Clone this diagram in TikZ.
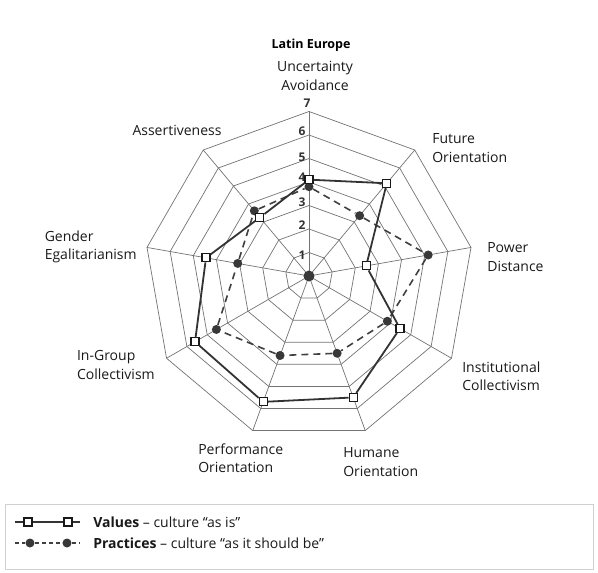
\documentclass[tikz,border=0pt]{standalone}
\usepackage{fontspec}
\setmainfont{Open Sans}
\usepackage{tikz}
\usetikzlibrary{arrows,positioning}

\begin{document}
\begin{tikzpicture}[x=1pt,y=1pt,semithick,
                    font=\fontsize{14}{18.5}\selectfont]

  \tikzstyle{grid line}=[draw=black!55,line width=0.7pt]
  \tikzstyle{axis label}=[align=left,inner sep=0pt,text=black!90]
  \tikzstyle{value mark}=[rectangle,draw=black!90,fill=white,line width=1.1pt,
                          minimum size=8pt,inner sep=0pt]
  \tikzstyle{practice mark}=[circle,fill=black!78,minimum size=9pt,inner sep=0pt]
  \tikzstyle{value line}=[draw=black!80,line width=1.8pt]
  \tikzstyle{practice line}=[draw=black!75,line width=1.6pt,dash pattern=on 7pt off 5pt]
  \tikzstyle{scale num}=[font=\bfseries\fontsize{12}{12}\selectfont,inner sep=0pt,text=black!80]

  \useasboundingbox (-309,-297) rectangle (289,276);

  % web of the nine dimensions
  \foreach \r in {1,...,7}
    \draw[grid line] (90:\r*23.5) \foreach \a in {1,...,8} { -- (90-40*\a:\r*23.5) } -- cycle;
  \foreach \a in {0,...,8}
    \draw[grid line] (0,0) -- (90-40*\a:7*23.5);

  \foreach \n/\x/\y in {1/-7/21,2/-7/51,3/-7/74,4/-7/99,5/-7/119,6/-7/145,7/-2/173}
    \node[scale num] (num\n) at (\x,\y) {\n};

  % dimension labels
  \node[font=\bfseries\fontsize{12.5}{15}\selectfont] (title) at (2,231) {Latin Europe};
  \node[axis label,align=center] (UA) at (6,200) {Uncertainty\\Avoidance};
  \node[axis label] (AS) at (-132,146) {Assertiveness};
  \node[axis label,anchor=west] (FO) at (123,128) {Future\\Orientation};
  \node[axis label,anchor=west] (PD) at (178,19) {Power\\Distance};
  \node[axis label,anchor=west] (IC) at (153,-100) {Institutional\\Collectivism};
  \node[axis label,anchor=west] (HO) at (34,-186) {Humane\\Orientation};
  \node[axis label,anchor=west] (PO) at (-111,-182) {Performance\\Orientation};
  \node[axis label,anchor=east] (IG) at (-154,-89) {In-Group\\Collectivism};
  \node[axis label,anchor=east] (GE) at (-172,29) {Gender\\Egalitarianism};

  % practices (dashed)
  \node[practice mark,minimum size=11pt] (centre) at (0,0) {};
  \foreach \v [count=\i from 0] in {3.8,3.35,5.15,3.85,3.5,3.6,4.55,3.08,3.62}
    \node[practice mark] (p\i) at (90-40*\i:\v*23.5) {};
  \draw[practice line] (p0) -- (p1) -- (p2) -- (p3) -- (p4) -- (p5) -- (p6) -- (p7) -- (p8) -- (p0);

  % values (solid)
  \foreach \v [count=\i from 0] in {4.1,5.15,2.47,4.47,5.5,5.7,5.6,4.45,3.25}
    \node[value mark] (v\i) at (90-40*\i:\v*23.5) {};
  \draw[value line] (v0) -- (v1) -- (v2) -- (v3) -- (v4) -- (v5) -- (v6) -- (v7) -- (v8) -- (v0);

  % legend
  \draw[draw=black!18,line width=0.5pt] (-304,-228) rectangle (284,-293);

  \coordinate (lv0) at (-294,-246);
  \node[value mark] (lv1) at (-281,-246) {};
  \node[value mark] (lv2) at (-241,-246) {};
  \coordinate (lv3) at (-229,-246);
  \draw[value line,line width=1.1pt] (lv0) -- (lv1) -- (lv2) -- (lv3);
  \node[axis label,anchor=west] (lvt) at (-216,-246) {\textbf{Values} – culture “as is”};

  \coordinate (lp0) at (-294,-267);
  \node[practice mark] (lp1) at (-279,-267) {};
  \node[practice mark] (lp2) at (-242,-267) {};
  \coordinate (lp3) at (-229,-267);
  \draw[practice line,line width=1.3pt,dash pattern=on 4pt off 3pt] (lp0) -- (lp1) -- (lp2) -- (lp3);
  \node[axis label,anchor=west] (lpt) at (-216,-267) {\textbf{Practices} – culture “as it should be”};
\end{tikzpicture}
\end{document}
